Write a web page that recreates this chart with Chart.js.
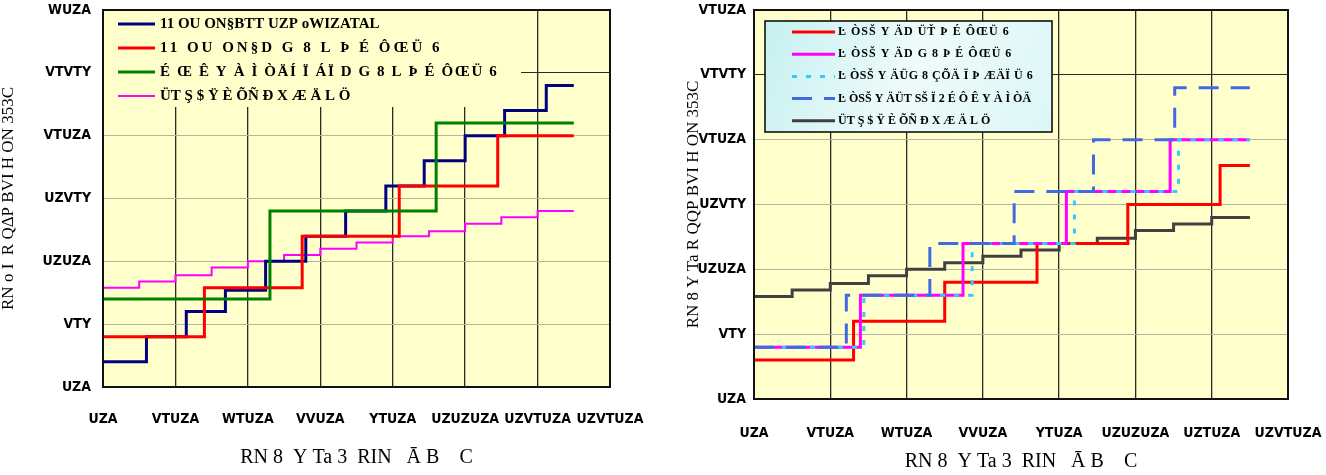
<!DOCTYPE html>
<html><head><meta charset="utf-8">
<script src="https://cdn.jsdelivr.net/npm/chart.js@4"></script>
<style>
html,body{margin:0;padding:0;background:#fff;width:1326px;height:475px;overflow:hidden}
.c{position:absolute;top:0;width:663px;height:475px}
#l{left:0}#r{left:663px}
</style></head><body>
<div class="c" id="l"><canvas id="cl" width="663" height="475"></canvas></div>
<div class="c" id="r"><canvas id="cr" width="663" height="475"></canvas></div>
<script>
// ---- tick labels / titles (as shown in the reference) ----
const yTicksL = ["UZA","VTY","UZUZA","UZVTY","VTUZA","VTVTY","WUZA"];
const yTicksR = ["UZA","VTY","UZUZA","UZVTY","VTUZA","VTVTY","VTUZA"];
const xTicksL = ["UZA","VTUZA","WTUZA","VVUZA","YTUZA","UZUZUZA","UZVTUZA","UZVTUZA"];
const xTicksR = ["UZA","VTUZA","WTUZA","VVUZA","YTUZA","UZUZUZA","UZTUZA","UZVTUZA"];
const xTitle = "RN 8  Y Ta 3  RIN   Ā B    C";
const yTitleL = "RN o I  R QΔP BVI H ON 353C";
const yTitleR = "RN 8 Y Ta R QQP BVI H ON 353C";

// ---- left chart series ----
const navyLabel = "11 OU ON§BTT UZP oWIZATAL";
const navyX = [0,120,230,338,449,560,670,781,887,1000,1109,1224,1300];
const navyY = [20,40,60,77,100,120,140,160,180,200,220,240,240];
const redLLabel = "11 OU ON§D G 8 L Þ É ÔŒÜ 6";
const redLX = [0,280,550,818,1090,1300];
const redLY = [40,79,120,160,200,200];
const greenLabel = "É Œ Ê Y À Ì ÒÄÍ Ï ÁÏ D G 8 L Þ É ÔŒÜ 6";
const greenX = [0,461,920,1300];
const greenY = [70,140,210,210];
const baseLabel = "ÜT Ş $ Ÿ È ÕÑ Ð X Æ Ä L Ö";
const baseX = [0,100,200,300,400,500,600,700,800,900,1000,1100,1200,1300];
const baseY = [79,84,89,95,100,105,110,115,120,124,130,135,140,140];

// ---- right chart series ----
const redRLabel = "Ŀ ÒSŠ Y ÄD ÜŤ Þ É ÔŒÜ 6";
const redRX = [0,261,500,742,980,1222,1300];
const redRY = [30,60,90,120,150,180,180];
const magRLabel = "Ŀ ÒSŠ Y ÄD G 8 Þ É ÔŒÜ 6";
const magRX = [0,279,548,819,1091,1300];
const magRY = [40,80,120,160,200,200];
const cyanLabel = "Ŀ ÒSŠ Y ÄÜG 8 ÇÕÄ Ï Þ ÆÄÏ Ü 6";
const cyanX = [0,288,572,840,1113,1300];
const cyanY = [40,80,120,160,200,200];
const blueLabel = "Ŀ ÒSŠ Y ÄÜT SŠ Ï 2 É Ô Ê Y À Ì ÒÄ";
const blueX = [0,242,461,682,890,1103,1300];
const blueY = [40,80,120,160,200,240,240];

const pts = (xs, ys) => xs.map((x, i) => ({x: x, y: ys[i]}));
const TICKFONT = {family: '"DejaVu Sans Condensed","Liberation Sans Narrow",sans-serif', size: 14, weight: 'bold'};
const SERIF = '"Liberation Serif","DejaVu Serif",serif';

function line(label, xs, ys, color, width, order, dash) {
  return {label: label, data: pts(xs, ys), borderColor: color, backgroundColor: color,
    borderWidth: width, stepped: true, pointRadius: 0, fill: false, tension: 0,
    borderDash: dash || [], order: order, borderJoinStyle: 'miter', borderCapStyle: 'butt'};
}

const framePlugin = {
  id: 'frame',
  beforeDraw(chart, args, o) {
    const {ctx, chartArea: a} = chart;
    ctx.save(); ctx.fillStyle = o.fill; ctx.fillRect(a.left, a.top, a.width, a.height); ctx.restore();
  },
  afterDatasetsDraw(chart, args, o) {
    const L = o.legend, ctx = chart.ctx;
    ctx.save();
    if (L.gradient) {
      const g = ctx.createLinearGradient(L.x, L.y, L.x + L.w, L.y + L.h);
      L.gradient.forEach(s => g.addColorStop(s[0], s[1]));
      ctx.fillStyle = g;
    } else ctx.fillStyle = L.fill;
    ctx.fillRect(L.x, L.y, L.w, L.h);
    if (L.border) { ctx.strokeStyle = '#000'; ctx.lineWidth = 1.5; ctx.strokeRect(L.x, L.y, L.w, L.h); }
    L.items.forEach((di, k) => {
      const ds = chart.data.datasets[di];
      const y = L.y0 + k * L.dy;
      ctx.beginPath();
      ctx.strokeStyle = ds.borderColor; ctx.lineWidth = ds.borderWidth;
      ctx.setLineDash(ds.borderDash || []);
      ctx.moveTo(L.sx0, y); ctx.lineTo(L.sx1, y); ctx.stroke();
      ctx.setLineDash([]);
      ctx.fillStyle = '#000'; ctx.font = L.font; ctx.textBaseline = 'middle'; ctx.textAlign = 'left';
      ctx.letterSpacing = (L.spacing ? L.spacing[k] : 0) + 'px';
      ctx.fillText(ds.label, L.tx, y);
      ctx.letterSpacing = '0px';
    });
    ctx.restore();
  },
  afterDraw(chart, args, o) {
    const {ctx, chartArea: a} = chart;
    ctx.save(); ctx.strokeStyle = '#111'; ctx.lineWidth = 2;
    ctx.strokeRect(a.left, a.top, a.width, a.height); ctx.restore();
  }
};

function makeOptions(cfg) {
  return {
    responsive: false, animation: false, devicePixelRatio: 1,
    layout: {padding: {left: 0, top: 10, right: cfg.padRight, bottom: 0}},
    plugins: {legend: {display: false}, tooltip: {enabled: false}, frame: {fill: '#FFFFCC', legend: cfg.legend}},
    scales: {
      x: {
        type: 'linear', min: 0, max: 1400,
        afterFit: s => { s.height = cfg.xHeight; s.paddingLeft = 0; s.paddingRight = 0; },
        ticks: {stepSize: 200, autoSkip: false, maxRotation: 0, padding: cfg.xPad, font: TICKFONT, color: '#000',
          callback: v => cfg.xTicks[Math.round(v / 200)]},
        grid: {color: '#2a2a2a', lineWidth: 1.3, drawTicks: false},
        border: {display: false},
        title: {display: true, text: xTitle, color: '#000', font: {family: SERIF, size: 20, lineHeight: 1.2},
          padding: {top: 0, bottom: cfg.xTitlePad}}
      },
      y: {
        type: 'linear', min: 0, max: 300,
        afterFit: s => { s.width = cfg.yWidth; s.paddingTop = 0; s.paddingBottom = 0; },
        ticks: {stepSize: 50, padding: cfg.yPad, font: TICKFONT, color: '#000',
          callback: v => cfg.yTicks[Math.round(v / 50)]},
        grid: {color: c => (c.tick && c.tick.value === 250) ? '#2a2a2a' : '#b4b4a0', lineWidth: 1, drawTicks: false},
        border: {display: false},
        title: {display: true, text: cfg.yTitle, color: '#000', font: {family: SERIF, size: 17, lineHeight: 1},
          padding: {top: cfg.yTitlePad, bottom: 0}}
      }
    }
  };
}

new Chart(document.getElementById('cl'), {
  type: 'line',
  data: {datasets: [
    line(navyLabel, navyX, navyY, '#000080', 3, 3),
    line(redLLabel, redLX, redLY, '#FF0000', 3, 2),
    line(greenLabel, greenX, greenY, '#008000', 3, 1),
    line(baseLabel, baseX, baseY, '#FF00FF', 2, 4)
  ]},
  options: makeOptions({
    padRight: 53, xHeight: 88, xPad: 24, xTitlePad: 5, yWidth: 103, yPad: 12, yTitlePad: 0,
    xTicks: xTicksL, yTicks: yTicksL, yTitle: yTitleL,
    legend: {x: 104, y: 11, w: 417, h: 96, fill: '#FFFFCC', border: false, items: [0,1,2,3],
      y0: 24, dy: 24, sx0: 118, sx1: 155, tx: 160, font: 'bold 15px ' + SERIF, spacing: [0, 3, 1.6, 0]}
  }),
  plugins: [framePlugin]
});

new Chart(document.getElementById('cr'), {
  type: 'line',
  data: {datasets: [
    line(redRLabel, redRX, redRY, '#FF0000', 3, 4),
    line(magRLabel, magRX, magRY, '#FF00FF', 3, 3),
    line(cyanLabel, cyanX, cyanY, '#33CCFF', 3, 2, [5, 9]),
    line(blueLabel, blueX, blueY, '#4169E1', 3, 1, [20, 12]),
    line(baseLabel, baseX, baseY, '#404040', 3, 5)
  ]},
  options: makeOptions({
    padRight: 38, xHeight: 76, xPad: 26, xTitlePad: 1, yWidth: 91, yPad: 8, yTitlePad: 22,
    xTicks: xTicksR, yTicks: yTicksR, yTitle: yTitleR,
    legend: {x: 102, y: 21, w: 287, h: 111, border: true,
      gradient: [[0, '#c6f0f0'], [0.5, '#effbfb'], [1, '#dcf6f6']], items: [0,1,2,3,4],
      y0: 32, dy: 22.2, sx0: 129, sx1: 172, tx: 175, font: 'bold 12px ' + SERIF, spacing: [1, 1, 0.5, 0, 0]}
  }),
  plugins: [framePlugin]
});
</script>
</body></html>
